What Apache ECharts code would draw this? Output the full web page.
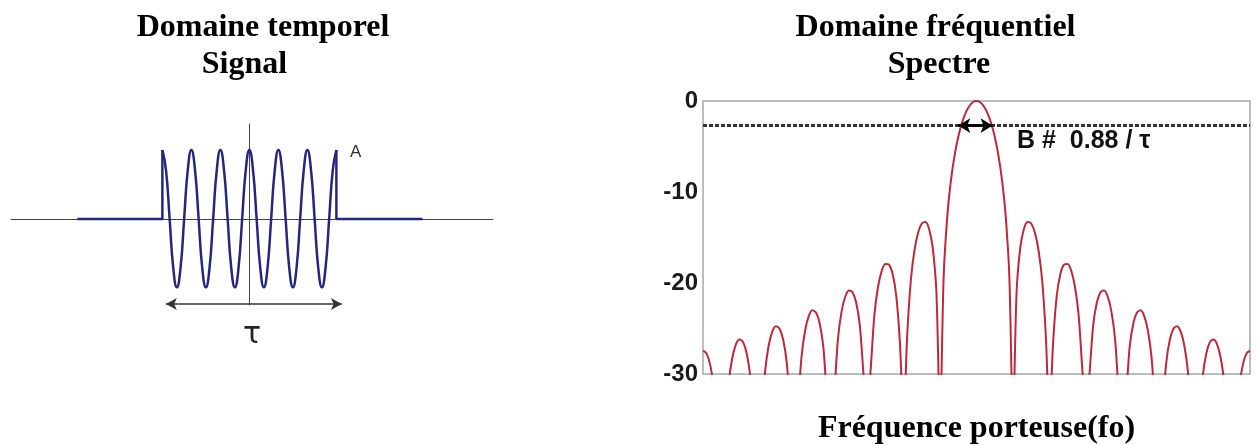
<!DOCTYPE html>
<html>
<head>
<meta charset="utf-8">
<script src="https://cdn.jsdelivr.net/npm/echarts@6/dist/echarts.min.js"></script>
<style>
html,body{margin:0;padding:0;background:#fff;}
#chart{width:1258px;height:445px;}
</style>
</head>
<body>
<div id="chart"></div>
<script>
// ---- Left panel: time-domain signal (time in carrier periods, amplitude in units of A)
const signalT = [-3,-2.875,-2.75,-2.625,-2.5,-2.375,-2.25,-2.125,
  -2,-1.875,-1.75,-1.625,-1.5,-1.375,-1.25,-1.125,
  -1,-0.875,-0.75,-0.625,-0.5,-0.375,-0.25,-0.125,
  0,0.125,0.25,0.375,0.5,0.625,0.75,0.875,
  1,1.125,1.25,1.375,1.5,1.625,1.75,1.875,
  2,2.125,2.25,2.375,2.5,2.625,2.75,2.875,3];
const signalV = [1,0.71,0,-0.71,-0.99,-0.71,0,0.71,
  1,0.71,0,-0.71,-0.99,-0.71,0,0.71,
  1,0.71,0,-0.71,-0.99,-0.71,0,0.71,
  1,0.71,0,-0.71,-0.99,-0.71,0,0.71,
  1,0.71,0,-0.71,-0.99,-0.71,0,0.71,
  1,0.71,0,-0.71,-0.99,-0.71,0,0.71,1];
const leftFlatT = [-5.93,-3,-3];
const leftFlatV = [0,0,1];
const rightFlatT = [3,3,5.97];
const rightFlatV = [1,0,0];
const tauArrowT = [-2.88, 3.19];
const tauArrowV = -1.23;

// ---- Right panel: spectrum (frequency offset in units of 1/tau, level in dB)
const freqX = [-7.5,-7.4,-7.3,-7.2,-7.1,-7.0,-6.9,-6.8,-6.7,-6.6,-6.5,-6.4,-6.3,-6.2,-6.1,
  -6.0,-5.9,-5.8,-5.7,-5.6,-5.5,-5.4,-5.3,-5.2,-5.1,
  -5.0,-4.9,-4.8,-4.7,-4.6,-4.5,-4.4,-4.3,-4.2,-4.1,
  -4.0,-3.9,-3.8,-3.7,-3.6,-3.5,-3.4,-3.3,-3.2,-3.1,
  -3.0,-2.9,-2.8,-2.7,-2.6,-2.5,-2.4,-2.3,-2.2,-2.1,
  -2.0,-1.9,-1.8,-1.7,-1.6,-1.5,-1.4,-1.3,-1.2,-1.1,
  -1.0,-0.9,-0.8,-0.7,-0.6,-0.5,-0.4,-0.3,-0.2,-0.1,
  0,0.1,0.2,0.3,0.4,0.5,0.6,0.7,0.8,0.9,
  1.0,1.1,1.2,1.3,1.4,1.5,1.6,1.7,1.8,1.9,
  2.0,2.1,2.2,2.3,2.4,2.5,2.6,2.7,2.8,2.9,
  3.0,3.1,3.2,3.3,3.4,3.5,3.6,3.7,3.8,3.9,
  4.0,4.1,4.2,4.3,4.4,4.5,4.6,4.7,4.8,4.9,
  5.0,5.1,5.2,5.3,5.4,5.5,5.6,5.7,5.8,5.9,
  6.0,6.1,6.2,6.3,6.4,6.5,6.6,6.7,6.8,6.9,
  7.0,7.1,7.2,7.3,7.4,7.5];
const spectrumDb = [-27.44,-27.76,-29.05,-31.71,-37.17,-40,-36.92,-31.21,-28.30,-26.77,-26.20,-26.50,-27.77,-30.41,-35.85,
  -40,-35.56,-29.83,-26.90,-25.34,-24.75,-25.03,-26.27,-28.88,-34.29,
  -40,-33.94,-28.18,-25.22,-23.64,-23.00,-23.25,-24.45,-27.02,-32.40,
  -35,-31.96,-26.16,-23.14,-21.51,-20.82,-21.01,-22.15,-24.66,-29.97,
  -35,-29.39,-23.50,-20.41,-18.68,-17.90,-17.98,-19.01,-21.41,-26.58,
  -35,-25.72,-19.67,-16.39,-14.46,-13.46,-13.30,-14.06,-16.14,-20.97,
  -35,-19.23,-12.62,-8.69,-5.94,-3.92,-2.42,-1.33,-0.58,-0.14,
  0,-0.14,-0.58,-1.33,-2.42,-3.92,-5.94,-8.69,-12.62,-19.23,
  -35,-20.97,-16.14,-14.06,-13.30,-13.46,-14.46,-16.39,-19.67,-25.72,
  -35,-26.58,-21.41,-19.01,-17.98,-17.90,-18.68,-20.41,-23.50,-29.39,
  -35,-29.97,-24.66,-22.15,-21.01,-20.82,-21.51,-23.14,-26.16,-31.96,
  -35,-32.40,-27.02,-24.45,-23.25,-23.00,-23.64,-25.22,-28.18,-33.94,
  -40,-34.29,-28.88,-26.27,-25.03,-24.75,-25.34,-26.90,-29.83,-35.56,
  -40,-35.85,-30.41,-27.77,-26.50,-26.20,-26.77,-28.30,-31.21,-36.92,
  -40,-37.17,-31.71,-29.05,-27.76,-27.44];
const halfPowerDb = -2.7;
const bandArrowX = [-0.5, 0.44];
const yTicksDb = [-30, -20, -10, 0];

const zip = (xs, ys) => xs.map((x, i) => [x, Array.isArray(ys) ? ys[i] : ys]);

const chart = echarts.init(document.getElementById('chart'), null, {renderer: 'canvas'});
const titleFont = {fontFamily: '"Liberation Serif","Times New Roman",serif', fontWeight: 'bold', fontSize: 32, fill: '#000'};

const option = {
  animation: false,
  backgroundColor: '#fff',
  grid: [
    {left: 11, top: 124, width: 482, height: 181},
    {left: 703, top: 101, width: 547, height: 273, show: true, borderColor: '#a8a8a8', borderWidth: 1.5, backgroundColor: '#fff'}
  ],
  xAxis: [
    {gridIndex: 0, type: 'value', min: -8.22, max: 8.40,
      axisLine: {show: true, onZero: true, lineStyle: {color: '#444', width: 1}},
      axisTick: {show: false}, axisLabel: {show: false}, splitLine: {show: false}},
    {gridIndex: 1, type: 'value', min: -7.5, max: 7.5,
      axisLine: {show: false}, axisTick: {show: false}, axisLabel: {show: false}, splitLine: {show: false}}
  ],
  yAxis: [
    {gridIndex: 0, type: 'value', min: -1.246, max: 1.377,
      axisLine: {show: true, onZero: true, lineStyle: {color: '#444', width: 1}},
      axisTick: {show: false}, axisLabel: {show: false}, splitLine: {show: false}},
    {gridIndex: 1, type: 'value', min: yTicksDb[0], max: yTicksDb[yTicksDb.length - 1], interval: 10,
      axisLine: {show: false}, axisTick: {show: false}, splitLine: {show: false},
      axisLabel: {show: true, margin: 5, color: '#1a1a1a', fontSize: 24, fontWeight: 'bold',
        fontFamily: '"Liberation Sans",Arial,sans-serif',
        formatter: v => String(v)}}
  ],
  series: [
    {type: 'line', xAxisIndex: 0, yAxisIndex: 0, data: zip(signalT, signalV), smooth: 0.5,
      showSymbol: false, symbol: 'none', lineStyle: {color: '#262680', width: 2.5}},
    {type: 'line', xAxisIndex: 0, yAxisIndex: 0, data: zip(leftFlatT, leftFlatV),
      showSymbol: false, symbol: 'none', lineStyle: {color: '#262680', width: 2.5}},
    {type: 'line', xAxisIndex: 0, yAxisIndex: 0, data: zip(rightFlatT, rightFlatV),
      showSymbol: false, symbol: 'none', lineStyle: {color: '#262680', width: 2.5}},
    {type: 'line', xAxisIndex: 0, yAxisIndex: 0, data: [], 
      markLine: {silent: true, symbol: ['arrow', 'arrow'], symbolSize: [9, 11],
        label: {show: false}, lineStyle: {color: '#333', width: 1.5, type: 'solid'},
        data: [[{coord: [tauArrowT[0], tauArrowV]}, {coord: [tauArrowT[1], tauArrowV]}]]}},
    {type: 'line', xAxisIndex: 1, yAxisIndex: 1, data: zip(freqX, spectrumDb), smooth: 0.3,
      showSymbol: false, symbol: 'none', clip: true,
      lineStyle: {color: '#c0283a', width: 2},
      markLine: {silent: true, symbol: 'none', label: {show: false},
        lineStyle: {color: '#333', width: 3, type: [4, 2]},
        data: [{yAxis: halfPowerDb}]}},
    {type: 'line', xAxisIndex: 1, yAxisIndex: 1, data: [],
      markLine: {silent: true, symbol: ['arrow', 'arrow'], symbolSize: [11, 12],
        label: {show: false}, lineStyle: {color: '#000', width: 3, type: 'solid'},
        data: [[{coord: [bandArrowX[0], halfPowerDb]}, {coord: [bandArrowX[1], halfPowerDb]}]]}}
  ],
  graphic: [
    {type: 'text', x: 263, y: 28, style: Object.assign({text: 'Domaine temporel', textAlign: 'center', textVerticalAlign: 'middle'}, titleFont)},
    {type: 'text', x: 244.5, y: 65, style: Object.assign({text: 'Signal', textAlign: 'center', textVerticalAlign: 'middle'}, titleFont)},
    {type: 'text', x: 935.5, y: 28, style: Object.assign({text: 'Domaine fréquentiel', textAlign: 'center', textVerticalAlign: 'middle'}, titleFont)},
    {type: 'text', x: 939, y: 65, style: Object.assign({text: 'Spectre', textAlign: 'center', textVerticalAlign: 'middle'}, titleFont)},
    {type: 'text', x: 976.5, y: 429, style: Object.assign({text: 'Fréquence porteuse(fo)', textAlign: 'center', textVerticalAlign: 'middle'}, titleFont)},
    {type: 'text', x: 350, y: 152, style: {text: 'A', textAlign: 'left', textVerticalAlign: 'middle', fontSize: 17, fontFamily: '"Liberation Sans",Arial,sans-serif', fill: '#333'}},
    {type: 'text', x: 252, y: 335, style: {text: 'τ', textAlign: 'center', textVerticalAlign: 'middle', fontSize: 30, fontFamily: '"DejaVu Sans",sans-serif', fill: '#222'}},
    {type: 'text', x: 1017, y: 141, style: {text: 'B #  0.88 / τ', textAlign: 'left', textVerticalAlign: 'middle', fontSize: 25, fontWeight: 'bold', fontFamily: '"Liberation Sans",Arial,sans-serif', fill: '#111'}}
  ]
};
chart.setOption(option);
</script>
</body>
</html>
